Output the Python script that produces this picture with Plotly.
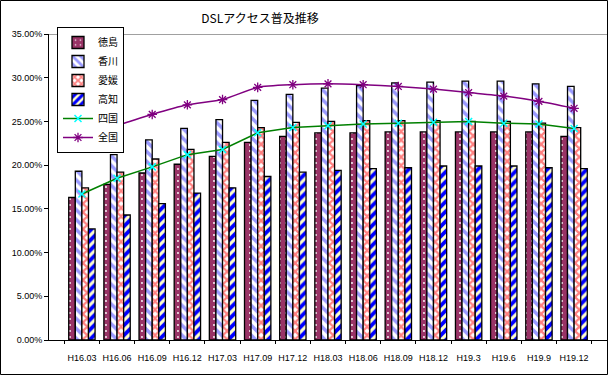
import plotly.graph_objects as go

categories = ["H16.03", "H16.06", "H16.09", "H16.12", "H17.03", "H17.09", "H17.12",
              "H18.03", "H18.06", "H18.09", "H18.12", "H19.3", "H19.6", "H19.9", "H19.12"]
tokushima = [16.3, 17.8, 19.1, 20.1, 21.0, 22.6, 23.3, 23.7, 23.7, 23.8, 23.8, 23.8, 23.8, 23.8, 23.3]
kagawa = [19.3, 21.2, 22.9, 24.2, 25.2, 27.4, 28.1, 28.8, 29.1, 29.4, 29.5, 29.6, 29.6, 29.3, 29.0]
ehime = [17.4, 19.2, 20.7, 21.8, 22.6, 24.3, 24.9, 25.0, 25.1, 25.1, 25.1, 25.0, 25.0, 24.8, 24.3]
kochi = [12.7, 14.3, 15.6, 16.8, 17.4, 18.7, 19.2, 19.4, 19.6, 19.7, 19.9, 19.9, 19.9, 19.7, 19.6]
shikoku = [16.7, 18.5, 19.8, 21.2, 21.8, 23.7, 24.3, 24.5, 24.7, 24.8, 24.9, 25.0, 24.8, 24.7, 24.2]
zenkoku = [22.6, 24.5, 25.8, 26.9, 27.5, 28.9, 29.2, 29.3, 29.2, 29.0, 28.7, 28.3, 27.9, 27.3, 26.5]
yticks = [0, 5, 10, 15, 20, 25, 30, 35]
yticktext = ["0.00%", "5.00%", "10.00%", "15.00%", "20.00%", "25.00%", "30.00%", "35.00%"]

CJK = "Noto Sans CJK JP"
LAT = "Liberation Sans"

fig = go.Figure()

def bar(name, vals, bg, fg, shape, size, sol):
    fig.add_trace(go.Bar(
        name=name, x=categories, y=vals,
        marker=dict(color=bg, line=dict(color="black", width=1.3),
                    pattern=dict(shape=shape, bgcolor=bg, fgcolor=fg, fgopacity=1, size=size,
                                 solidity=sol, fillmode="overlay")),
    ))

bar("徳島", tokushima, "#993366", "#FFFFFF", ".", 6, 0.08)
bar("香川", kagawa, "#FFFFFF", "#9999FF", "\\", 7, 0.5)
bar("愛媛", ehime, "#FFFFFF", "#FF8080", "x", 6, 0.6)
bar("高知", kochi, "#FFFFCC", "#0000FF", "/", 7, 0.55)

fig.add_trace(go.Scatter(
    name="四国", x=categories, y=shikoku, mode="lines+markers",
    line=dict(color="#008000", width=1.5),
    marker=dict(symbol="x-thin-open", size=7, color="#00FFFF", line=dict(color="#00FFFF", width=1.5)),
))
fig.add_trace(go.Scatter(
    name="全国", x=categories, y=zenkoku, mode="lines+markers",
    line=dict(color="#800080", width=1.5, shape="spline", smoothing=0.6),
    marker=dict(symbol="asterisk-open", size=8, color="#800080", line=dict(color="#800080", width=1.3)),
))

W, H = 608, 375
L, R, T, B = 49, 1, 34, 35
pw, ph = W - L - R, H - T - B

def px_x(p):
    return (p - L) / pw

def px_y(p):
    return (H - B - p) / ph

fig.add_shape(type="line", xref="paper", yref="y", x0=0, x1=1, y0=35, y1=35,
              line=dict(color="#808080", width=1.5))
fig.add_shape(type="rect", xref="paper", yref="paper",
              x0=px_x(0.5), x1=px_x(W - 0.5), y0=px_y(H - 0.5), y1=px_y(0.5),
              line=dict(color="black", width=1))

fig.update_layout(
    width=W, height=H,
    margin=dict(l=L, r=R, t=T, b=B, autoexpand=False),
    paper_bgcolor="white", plot_bgcolor="white",
    barmode="group", bargap=0.25, bargroupgap=0,
    title=dict(text="DSLアクセス普及推移", xref="container", x=260 / W, xanchor="center",
               yref="container", y=1 - 19 / H, yanchor="middle",
               font=dict(family=CJK, size=12, color="black")),
    showlegend=True,
    legend=dict(x=px_x(57), y=px_y(27), xanchor="left", yanchor="top",
                bgcolor="white", bordercolor="black", borderwidth=1,
                font=dict(family=CJK, size=10, color="black"),
                tracegroupgap=0, itemwidth=30, traceorder="normal"),
    xaxis=dict(type="category", showline=True, linecolor="black", linewidth=1,
               ticks="outside", tickson="boundaries", ticklen=3, tickcolor="black",
               showgrid=False, tickfont=dict(family=LAT, size=9, color="black"),
               tickangle=0, automargin=False, ticklabelstandoff=9),
    yaxis=dict(range=[0, 35], showline=True, linecolor="black", linewidth=1,
               ticks="outside", ticklen=4, tickcolor="black", showgrid=False,
               tickvals=yticks, ticktext=yticktext, zeroline=False, automargin=False,
               tickfont=dict(family=LAT, size=9, color="black")),
)

fig.write_html("out.html", config={"displayModeBar": False},
               post_script="document.body.style.margin='0px';")
